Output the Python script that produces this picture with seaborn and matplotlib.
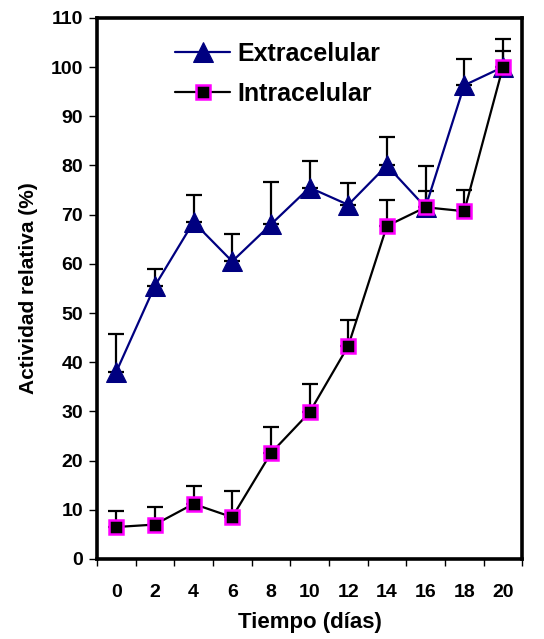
import matplotlib
matplotlib.use("Agg")
import matplotlib.pyplot as plt
import numpy as np
import pandas as pd
import seaborn as sns

# Data
dias = [0, 2, 4, 6, 8, 10, 12, 14, 16, 18, 20]
extracelular = [38, 55.5, 68.5, 60.5, 68, 75.5, 72, 80, 71.5, 96.3, 100]
extra_err = [7.7, 3.4, 5.5, 5.6, 8.7, 5.4, 4.5, 5.7, 8.3, 5.4, 5.7]
intracelular = [6.5, 7.0, 11.2, 8.5, 21.5, 29.8, 43.3, 67.7, 71.5, 70.7, 100]
intra_err = [3.3, 3.5, 3.6, 5.4, 5.4, 5.7, 5.2, 5.2, 3.3, 4.3, 3.3]

df = pd.DataFrame({
    "pos": list(range(len(dias))) * 2,
    "valor": extracelular + intracelular,
    "serie": ["Extracelular"] * len(dias) + ["Intracelular"] * len(dias),
})

sns.set_style("white")
plt.rcParams["font.family"] = ["Liberation Sans", "DejaVu Sans"]
plt.rcParams["font.weight"] = "bold"
for k in ["text.color", "axes.labelcolor", "xtick.color", "ytick.color"]:
    plt.rcParams[k] = "black"

fig = plt.figure(figsize=(5.44, 6.39), dpi=100)
ax = fig.add_axes([0.178, 0.1252, 0.782, 0.8468])

pos = np.arange(len(dias))
# upward-only error bars
ax.errorbar(pos, extracelular, yerr=[np.zeros(len(dias)), extra_err], fmt="none",
            ecolor="black", elinewidth=1.6, capsize=6, capthick=1.6, zorder=2)
ax.errorbar(pos, intracelular, yerr=[np.zeros(len(dias)), intra_err], fmt="none",
            ecolor="black", elinewidth=1.6, capsize=6, capthick=1.6, zorder=2)

sns.lineplot(data=df[df.serie == "Extracelular"], x="pos", y="valor", ax=ax,
             color="#000080", marker="^", markersize=14.5, markeredgecolor="#000080",
             linewidth=1.6, label="Extracelular", zorder=3)
sns.lineplot(data=df[df.serie == "Intracelular"], x="pos", y="valor", ax=ax,
             color="black", marker="s", markersize=10.5, markerfacecolor="black",
             markeredgecolor="#FF00FF", markeredgewidth=1.8,
             linewidth=1.6, label="Intracelular", zorder=4)

ax.set_xlim(-0.5, len(dias) - 0.5)
ax.set_ylim(0, 110)
ax.set_yticks(range(0, 111, 10))
ax.set_xticks(pos)
ax.set_xticklabels([str(d) for d in dias])
ax.set_xticks(np.arange(-0.5, len(dias), 1), minor=True)

ax.tick_params(axis="x", which="major", length=0, pad=18, labelsize=14)
ax.tick_params(axis="x", which="minor", length=5, width=1, direction="out", bottom=True)
ax.tick_params(axis="y", which="major", length=6, width=1, direction="out", pad=4,
               labelsize=14, left=True)
for lab in ax.get_xticklabels() + ax.get_yticklabels():
    lab.set_fontweight("bold")

for s in ax.spines.values():
    s.set_linewidth(2.6)
    s.set_color("black")

ax.set_xlabel("Tiempo (días)", fontsize=16, fontweight="bold", labelpad=8)
ax.set_ylabel("Actividad relativa (%)", fontsize=15, fontweight="bold", labelpad=9)

leg = ax.legend(loc="upper left", bbox_to_anchor=(0.184, 0.955), frameon=False,
                prop={"size": 18, "weight": "bold"}, handlelength=2.2,
                handletextpad=0.3, borderpad=0, borderaxespad=0, labelspacing=0.62)
for t in leg.get_texts():
    t.set_fontweight("bold")
    t.set_color("black")

fig.savefig("out.png", dpi=100)
